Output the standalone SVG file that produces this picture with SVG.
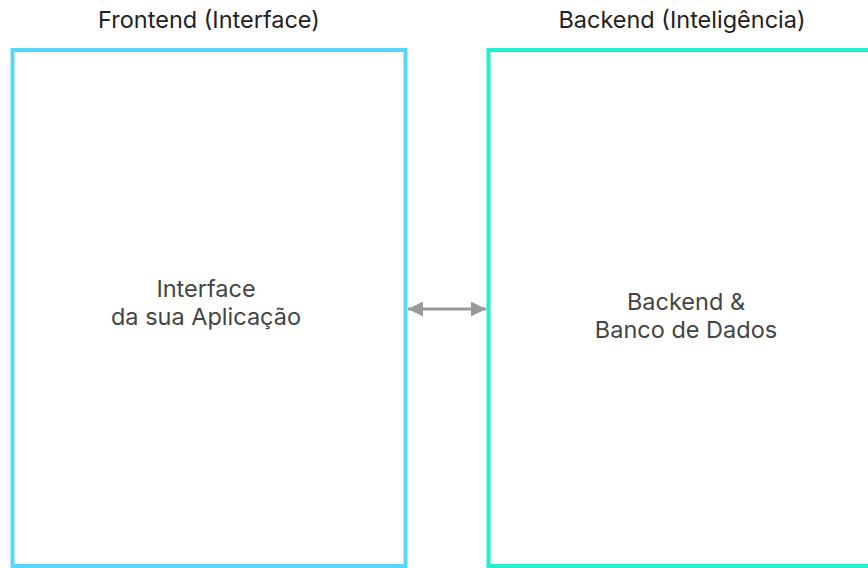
<svg xmlns="http://www.w3.org/2000/svg" width="868" height="568" viewBox="0 0 868 568">
<defs>
<style>
.title{font-family:Inter,"Liberation Sans",sans-serif;font-size:23.5px;fill:#222;text-anchor:middle}
.label{font-family:Inter,"Liberation Sans",sans-serif;font-size:23.5px;fill:#444;text-anchor:middle}
.box{fill:#fff;stroke-width:4}
</style>
<marker id="ah" viewBox="0 0 10 10" refX="10" refY="5" markerWidth="5" markerHeight="5" orient="auto-start-reverse" markerUnits="strokeWidth">
<path d="M0,0 L10,5 L0,10 z" fill="#999"/>
</marker>
</defs>
<rect width="868" height="568" fill="#fff"/>
<g id="frontend">
<text class="title" x="209" y="27.5">Frontend (Interface)</text>
<rect class="box" x="12.5" y="50" width="393" height="516" stroke="#55d8fb"/>
<text class="label" x="206" y="297">Interface</text>
<text class="label" x="206" y="324.5">da sua Aplicação</text>
</g>
<g id="backend">
<text class="title" x="682" y="27.5">Backend (Inteligência)</text>
<rect class="box" x="488.5" y="50" width="390" height="516" stroke="#22f0cf"/>
<text class="label" x="686" y="309.5">Backend &amp;</text>
<text class="label" x="686" y="337.5">Banco de Dados</text>
</g>
<g id="connectors">
<line x1="408" y1="309" x2="486" y2="309" stroke="#999" stroke-width="3" marker-start="url(#ah)" marker-end="url(#ah)"/>
</g>
</svg>
